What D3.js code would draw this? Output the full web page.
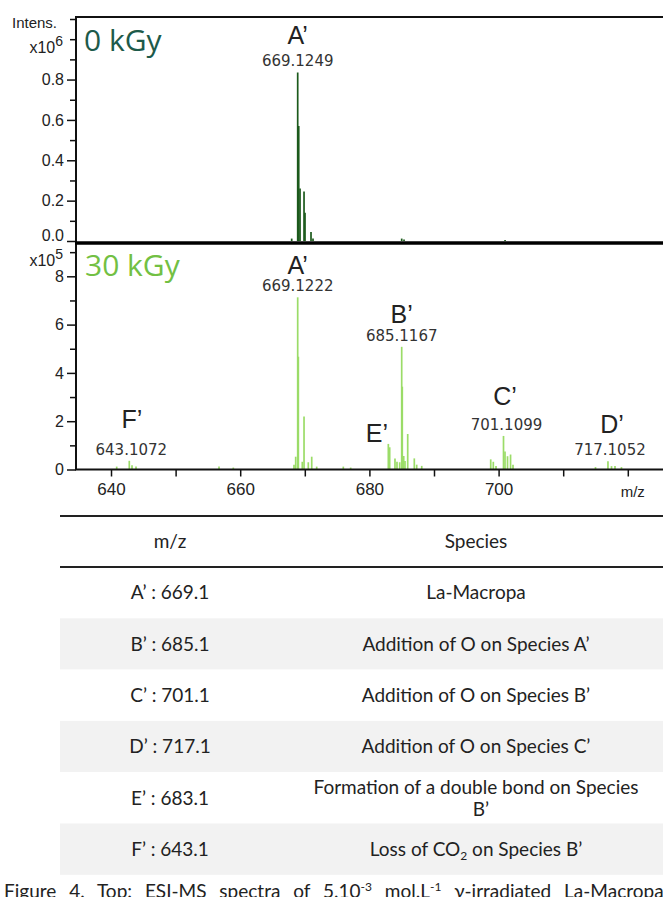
<!DOCTYPE html>
<html lang="en">
<head>
<meta charset="UTF-8">
<script src="https://d3js.org/d3.v7.min.js"></script>
<title>ESI-MS La-Macropa</title>
<style>
  body { margin: 0; background: #fff; }
  svg { display: block; }
</style>
</head>
<body>
<div id="chart"></div>
<script>
// 0 kGy spectrum, intensity x10^6
const mz0  = [667.97, 668.90, 669.06, 669.26, 669.88, 670.03, 670.96, 671.27, 685.00, 685.36, 701.00];
const int0 = [0.012, 0.835, 0.57, 0.26, 0.245, 0.14, 0.045, 0.012, 0.012, 0.008, 0.005];

// 30 kGy spectrum, intensity x10^5
const mz30 = [640.88, 642.83, 643.25, 643.87, 656.72, 658.93,
              668.33, 668.59, 668.90, 669.00, 669.61, 669.88, 670.54, 671.07, 671.84,
              675.96, 677.10,
              682.93, 683.14, 683.96, 684.27, 684.69, 685.00, 685.09, 685.31, 685.51, 685.93, 686.95, 687.32, 688.10,
              698.78, 699.18, 699.60, 700.76, 700.99, 701.38, 701.85, 702.23,
              715.00, 716.93, 717.48, 718.02, 719.02];
const int30 = [0.12, 0.36, 0.18, 0.12, 0.12, 0.08,
               0.2, 0.53, 7.13, 4.67, 0.32, 2.19, 0.3, 0.53, 0.12,
               0.12, 0.08,
               1.06, 0.92, 0.46, 0.32, 0.3, 5.08, 3.43, 0.56, 0.35, 1.47, 0.46, 0.2, 0.15,
               0.42, 0.32, 0.15, 1.39, 0.75, 0.55, 0.62, 0.2,
               0.1, 0.34, 0.14, 0.15, 0.1];

// peak annotations: letter, measured m/z, peak position, peak height
const labels0  = [["A’", "669.1249", 668.90, 0.835]];
const labels30 = [["A’", "669.1222", 668.90, 7.13],
                  ["B’", "685.1167", 685.00, 5.08],
                  ["C’", "701.1099", 700.76, 1.39],
                  ["D’", "717.1052", 716.93, 0.34],
                  ["E’", "",         682.93, 1.06],
                  ["F’", "643.1072", 642.83, 0.36]];

// axis ticks
const xTicks = [640, 650, 660, 670, 680, 690, 700, 710, 720];
const xTickLabels = ["640", "", "660", "", "680", "", "700", "", ""];
const yTicks0 = [0, 0.1, 0.2, 0.3, 0.4, 0.5, 0.6, 0.7, 0.8, 0.9, 1.0, 1.1];
const yTickLabels0 = ["0.0", "", "0.2", "", "0.4", "", "0.6", "", "0.8", "", "", ""];
const yTicks30 = [0, 1, 2, 3, 4, 5, 6, 7, 8, 9];
const yTickLabels30 = ["0", "", "2", "", "4", "", "6", "", "8", ""];

// table
const tableHead = ["m/z", "Species"];
const tableMz = ["A’ : 669.1", "B’ : 685.1", "C’ : 701.1", "D’ : 717.1", "E’ : 683.1", "F’ : 643.1"];
const tableSpecies = [["La-Macropa"],
                      ["Addition of O on Species A’"],
                      ["Addition of O on Species B’"],
                      ["Addition of O on Species C’"],
                      ["Formation of a double bond on Species", "B’"],
                      ["Loss of CO", "2", " on Species B’"]];

const width = 663, height = 897;
const svg = d3.select("#chart").append("svg")
    .attr("width", width).attr("height", height);

const x = d3.scaleLinear().domain([634.58, 725.45]).range([76, 663]);
const y0 = d3.scaleLinear().domain([0, 1.11]).range([241, 17]);
const y30 = d3.scaleLinear().domain([0, 9.4]).range([469.5, 242.5]);

const axisFont = "'Liberation Sans', Arial, sans-serif";

// sticks
function drawPeaks(mz, ints, y, color) {
  svg.append("g").selectAll("line")
    .data(mz.map((m, i) => [m, ints[i]]))
    .join("line")
    .attr("x1", d => x(d[0])).attr("x2", d => x(d[0]))
    .attr("y1", y(0)).attr("y2", d => y(d[1]))
    .attr("stroke", color).attr("stroke-width", 1.7);
}
drawPeaks(mz0, int0, y0, "#1c5a1c");
drawPeaks(mz30, int30, y30, "#9bdc68");

// y axes
function yAxis(y, ticks, tickLabels) {
  const g = svg.append("g").attr("transform", "translate(76,0)")
    .call(d3.axisLeft(y).tickValues(ticks).tickSize(9).tickPadding(3)
      .tickFormat((d, i) => tickLabels[i]));
  g.select(".domain").remove();
  g.selectAll(".tick line")
    .attr("x2", (d, i) => tickLabels[i] ? -9 : -6)
    .attr("stroke", "#111").attr("stroke-width", 1.5);
  g.selectAll(".tick text")
    .attr("font-family", axisFont).attr("font-size", 16).attr("fill", "#222");
  return g;
}
const gy0 = yAxis(y0, yTicks0, yTickLabels0);
// the 0.0 label sits above its tick
gy0.selectAll(".tick text").filter(d => d === 0).attr("dy", "-0.05em");
yAxis(y30, yTicks30, yTickLabels30);

// x axis
const gx = svg.append("g").attr("transform", `translate(0,${y30(0)})`)
  .call(d3.axisBottom(x).tickValues(xTicks).tickSize(7).tickPadding(6)
    .tickFormat((d, i) => xTickLabels[i]));
gx.select(".domain").remove();
gx.selectAll(".tick line").attr("stroke", "#111").attr("stroke-width", 1.5);
gx.selectAll(".tick text")
  .attr("font-family", axisFont).attr("font-size", 17).attr("fill", "#222");
gx.append("text")
  .attr("x", x(720) + 5).attr("y", 27)
  .attr("font-family", axisFont).attr("font-size", 15).attr("fill", "#222")
  .text("m/z");

// frame lines
svg.append("line").attr("x1", 75).attr("x2", width).attr("y1", 17).attr("y2", 17)
  .attr("stroke", "#111").attr("stroke-width", 2);
svg.append("line").attr("x1", 76).attr("x2", 76).attr("y1", 16).attr("y2", y30(0))
  .attr("stroke", "#111").attr("stroke-width", 2);
svg.append("line").attr("x1", 75).attr("x2", width).attr("y1", 243).attr("y2", 243)
  .attr("stroke", "#000").attr("stroke-width", 3.5);
svg.append("line").attr("x1", 75).attr("x2", width).attr("y1", y30(0)).attr("y2", y30(0))
  .attr("stroke", "#111").attr("stroke-width", 2);

// axis unit labels
svg.append("text").attr("x", 57).attr("y", y0(1.1) + 9).attr("text-anchor", "end")
  .attr("font-family", axisFont).attr("font-size", 15).attr("fill", "#222").text("Intens.");
function exponentLabel(yy, exp) {
  const t = svg.append("text").attr("x", 63).attr("y", yy).attr("text-anchor", "end")
    .attr("font-family", axisFont).attr("font-size", 16).attr("fill", "#222");
  t.append("tspan").text("x10");
  t.append("tspan").attr("dy", -7).attr("font-size", 14).text(exp);
}
exponentLabel(y0(1.0) + 14, "6");
exponentLabel(y30(9) + 14, "5");

// dose labels
svg.append("text").attr("x", 84).attr("y", 51)
  .attr("font-family", "'Open Sans', sans-serif").attr("font-size", 30)
  .attr("fill", "#1d5a4a").text("0 kGy");
svg.append("text").attr("x", 85).attr("y", 276)
  .attr("font-family", "'Open Sans', sans-serif").attr("font-size", 30)
  .attr("fill", "#72c043").text("30 kGy");

// peak annotations (offsets: letter dx, letter gap above number, number dx)
const labelLayout = {
  "0A’": [0, 22, 0], "A’": [0, 17, 0], "B’": [0, 18, 0], "C’": [1.5, 25, 3],
  "D’": [4, 22, 2], "E’": [-11.5, 0, 0], "F’": [2.5, 27, 2]
};
function drawLabels(list, y, prefix) {
  list.forEach(([name, val, m, h]) => {
    const [ldx, gap, ndx] = labelLayout[prefix + name];
    const numY = y(h) - (val ? 6 : 2);
    if (val) {
      svg.append("text").attr("x", x(m) + ndx).attr("y", numY).attr("text-anchor", "middle")
        .attr("font-family", "'DejaVu Sans', sans-serif").attr("font-size", 15)
        .attr("fill", "#333").text(val);
    }
    svg.append("text").attr("x", x(m) + ldx).attr("y", numY - gap).attr("text-anchor", "middle")
      .attr("font-family", axisFont).attr("font-size", 25)
      .attr("fill", "#222").text(name);
  });
}
drawLabels(labels0, y0, "0");
drawLabels(labels30, y30, "");

// table
const tFont = "Lato, 'Open Sans', sans-serif";
const tSize = 19;
const col1 = 170, col2 = 476, rowH = 51.3, firstRow = 567;
svg.append("g").selectAll("rect")
  .data(tableMz)
  .join("rect")
  .attr("x", 60).attr("width", width - 60)
  .attr("y", (d, i) => firstRow + i * rowH).attr("height", rowH)
  .attr("fill", (d, i) => i % 2 ? "#f2f2f2" : "#fff");
svg.append("line").attr("x1", 60).attr("x2", width).attr("y1", 516).attr("y2", 516)
  .attr("stroke", "#222").attr("stroke-width", 2);
svg.append("line").attr("x1", 60).attr("x2", width).attr("y1", firstRow).attr("y2", firstRow)
  .attr("stroke", "#222").attr("stroke-width", 2);
[col1, col2].forEach((cx, i) => {
  svg.append("text").attr("x", cx).attr("y", 541).attr("dy", "0.35em")
    .attr("text-anchor", "middle").attr("font-family", tFont).attr("font-size", tSize)
    .attr("fill", "#222").text(tableHead[i]);
});
tableMz.forEach((d, i) => {
  const cy = firstRow + i * rowH + rowH / 2;
  svg.append("text").attr("x", col1).attr("y", cy).attr("dy", "0.35em")
    .attr("text-anchor", "middle").attr("font-family", tFont).attr("font-size", tSize)
    .attr("fill", "#222").text(d);
  const sp = tableSpecies[i];
  const t = svg.append("text").attr("x", col2).attr("y", cy).attr("dy", "0.35em")
    .attr("text-anchor", "middle").attr("font-family", tFont).attr("font-size", tSize)
    .attr("fill", "#222");
  if (sp.length === 2) {
    t.attr("y", cy - 11).text(sp[0]);
    svg.append("text").attr("x", col2 + 5).attr("y", cy + 11).attr("dy", "0.35em")
      .attr("text-anchor", "middle").attr("font-family", tFont).attr("font-size", tSize)
      .attr("fill", "#222").text(sp[1]);
  } else if (sp.length === 3) {
    t.append("tspan").text(sp[0]);
    t.append("tspan").attr("font-size", 12).attr("dy", 4).text(sp[1]);
    t.append("tspan").attr("dy", -4).text(sp[2]);
  } else {
    t.text(sp[0]);
  }
});

// caption (cut by the bottom edge)
const cap = svg.append("text").attr("x", 4).attr("y", 898)
  .attr("font-family", tFont).attr("font-size", 19).attr("fill", "#222")
  .attr("word-spacing", 8);
cap.append("tspan").text("Figure 4. Top: ESI-MS spectra of 5.10");
cap.append("tspan").attr("dy", -7).attr("font-size", 12).text("-3");
cap.append("tspan").attr("dy", 7).text(" mol.L");
cap.append("tspan").attr("dy", -7).attr("font-size", 12).text("-1");
cap.append("tspan").attr("dy", 7).text(" γ-irradiated La-Macropa");
</script>
</body>
</html>
